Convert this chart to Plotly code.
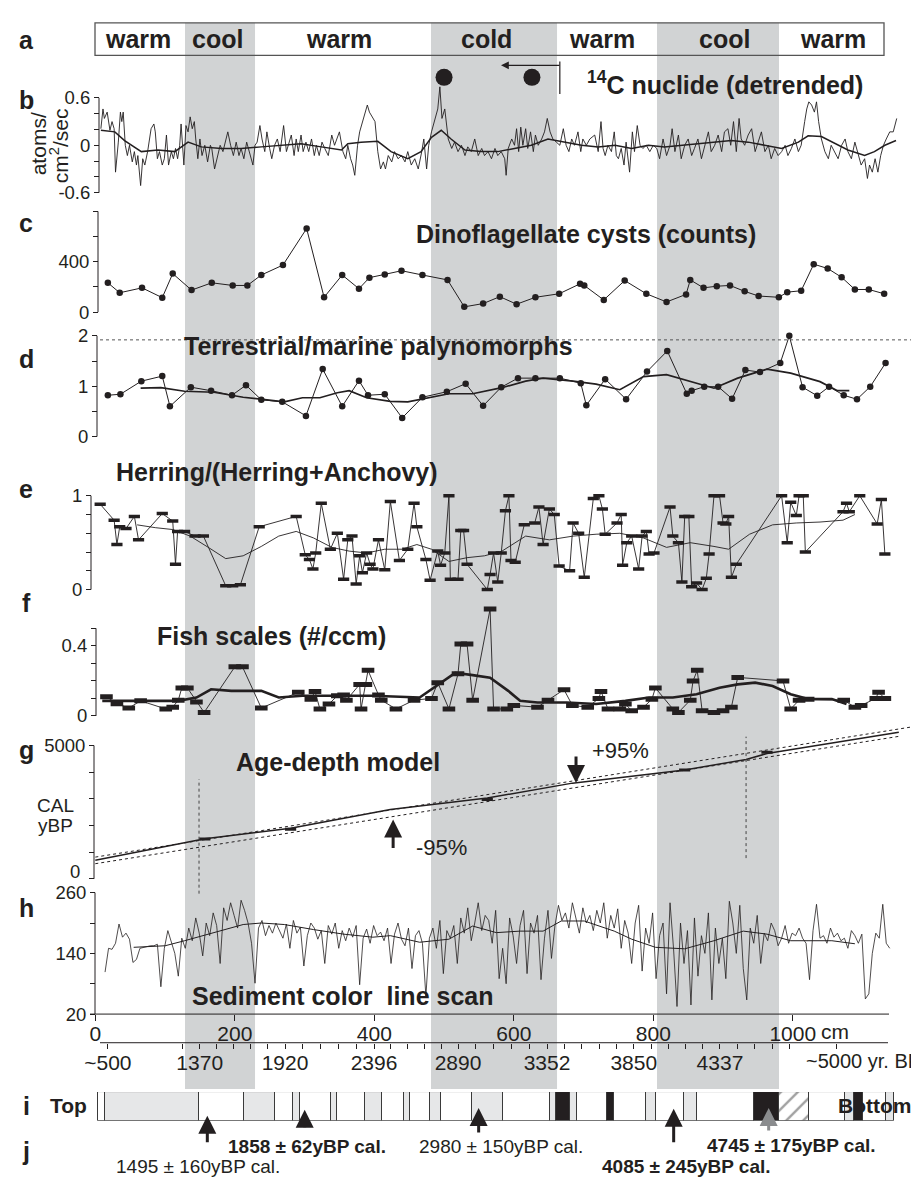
import plotly.graph_objects as go

W, H = 919, 1178
FONT = "Liberation Sans, Arial, Helvetica, sans-serif"
INK = "#231f20"
BAND = "#d1d3d4"
LITH_GRAY = "#e6e7e8"

# ---------------- data ----------------
regime_labels = ["warm", "cool", "warm", "cold", "warm", "cool", "warm"]
band_start_cm = [128.6, 481.3, 805.3]
band_end_cm = [229.0, 662.0, 980.2]

# b: 14C nuclide (detrended), depth cm / atoms cm-2 s-1
c14_raw = [(8,0.21),(11,0.46),(13,0.34),(17,0.42),(21,0.19),(24,0.30),(27,0.21),(29,-0.34),(33,0.04),(36,0.42),
 (38,0.30),(40,0.42),(43,0),(46,-0.13),(49,0),(53,-0.21),(56,-0.08),(59,-0.25),(61,-0.13),(65,-0.51),(68,-0.17),
 (71,-0.25),(75,-0.08),(78,0.08),(80,0.21),(84,0.27),(86,0.17),(89,-0.17),(92,-0.08),(96,-0.25),(99,-0.17),(102,0.13),
 (105,-0.25),(109,-0.08),(112,-0.17),(115,-0.04),(118,-0.17),(121,0),(123,0.27),(127,-0.25),(130,0.25),(133,0.17),
 (136,0.36),(139,0.21),(142,0.30),(144,0.08),(147,-0.17),(150,0.08),(153,-0.13),(157,0),(161,-0.21),(165,0),(167,-0.04),
 (171,-0.30),(175,-0.13),(179,0),(183,-0.08),(187,0.08),(190,0.17),(194,0),(198,-0.13),(202,0.04),(206,-0.13),(209,-0.04),
 (213,-0.17),(217,0.04),(221,-0.08),(226,-0.25),(229,0),(232,0.04),(236,0.25),(239,0.08),(243,-0.08),(246,0.17),(250,-0.04),
 (253,-0.17),(257,0),(261,0.08),(265,-0.08),(270,0.25),(274,-0.08),(277,0),(281,0.13),(285,-0.13),(288,0.08),(291,-0.08),
 (295,0.13),(298,-0.08),(302,0.04),(306,-0.08),(310,0.08),(314,-0.13),(317,0),(321,-0.13),(325,0.04),(329,-0.04),(334,-0.13),
 (339,0.13),(343,0),(350,0.17),(355,-0.08),(359,-0.17),(362,0),(366,-0.17),(369,-0.25),(372,-0.38),(376,0),(379,0.17),
 (384,0.34),(390,0.51),(393,0.42),(398,0.34),(401,0.30),(405,-0.08),(409,-0.30),(413,-0.21),(416,-0.30),(420,-0.13),
 (425,-0.21),(429,-0.08),(434,-0.17),(439,-0.13),(444,-0.21),(448,-0.08),(453,-0.25),(458,-0.17),(463,-0.30),(468,-0.08),
 (471,0.08),(475,-0.30),(478,0),(482,0.17),(487,0.34),(491,0.46),(494,0.74),(497,0.34),(501,0.46),(506,0.08),(511,-0.04),
 (515,0.04),(520,-0.08),(525,0),(530,-0.13),(534,-0.02),(539,-0.08),(544,0.08),(549,-0.13),(554,-0.04),(558,-0.13),
 (563,-0.08),(568,-0.17),(573,-0.04),(577,-0.13),(582,-0.08),(587,-0.17),(589,-0.38),(592,-0.04),(597,0.08),(601,0),
 (604,0.21),(607,-0.08),(610,0.23),(613,0),(617,0.21),(620,-0.04),(624,0.17),(628,-0.08),(631,0.13),(635,0),(640,0.08),
 (644,0.17),(648,0.34),(652,0.17),(656,0.08),(661,0.04),(666,0),(671,0.21),(675,0),(679,-0.08),(683,0.08),(687,0),
 (692,0.17),(696,-0.08),(699,0.08),(704,0),(709,0.08),(716,0.13),(721,-0.08),(725,0.30),(728,-0.04),(731,-0.13),(735,0),
 (740,-0.08),(744,0.17),(747,-0.13),(750,-0.17),(754,-0.04),(758,-0.25),(761,0.04),(766,-0.34),(770,0.17),(773,-0.08),
 (777,0.25),(781,0),(785,-0.04),(790,0),(795,-0.08),(800,0),(805,-0.04),(809,-0.17),(814,0.08),(819,-0.13),(824,0),
 (827,0.21),(831,-0.08),(836,0.13),(840,-0.17),(845,0),(850,0.08),(855,-0.13),(859,-0.04),(864,0.08),(869,-0.17),(874,0),
 (879,0.17),(883,-0.08),(888,0),(893,0.13),(898,-0.08),(902,0.17),(907,0.21),(911,0),(915,0.30),(919,-0.08),(923,0.34),
 (926,0.08),(931,0),(936,0.13),(941,0.21),(946,-0.08),(950,0.04),(955,0.17),(960,-0.08),(965,0),(969,-0.17),(974,-0.04),
 (979,-0.13),(984,-0.08),(989,0),(993,-0.13),(998,-0.04),(1003,0.08),(1008,-0.08),(1012,0),(1017,0.30),(1020,0.46),
 (1023,0.55),(1027,0.51),(1031,0.42),(1034,0.55),(1037,0.30),(1041,0.08),(1046,-0.08),(1051,-0.17),(1055,0),(1060,-0.08),
 (1065,-0.17),(1070,0),(1075,0.08),(1079,-0.08),(1084,-0.17),(1089,0.04),(1094,-0.13),(1098,-0.25),(1103,-0.17),
 (1107,-0.42),(1110,-0.25),(1114,-0.34),(1118,-0.17),(1122,-0.34),(1126,-0.13),(1130,0),(1134,0.08),(1139,0.17),
 (1144,0.17),(1149,0.34)]
c14_smooth = [(8,0.19),(28,0.17),(42,0.06),(66,-0.08),(90,-0.06),(114,-0.08),(133,0.04),(152,-0.02),(181,-0.04),
 (209,-0.04),(238,-0.02),(267,0),(295,0.02),(324,-0.02),(353,-0.06),(362,0.02),(381,0.04),(405,0.05),(424,-0.08),
 (448,-0.17),(467,-0.08),(482,0.10),(496,0.19),(510,0.08),(530,-0.06),(553,-0.08),(577,-0.08),(601,-0.04),(625,0),
 (649,0.08),(673,0.04),(697,0),(721,-0.02),(745,0),(769,-0.04),(793,0),(816,-0.02),(840,0),(864,0.02),(888,0.04),
 (912,0.06),(936,0.04),(960,0),(984,-0.04),(1008,0.04),(1022,0.12),(1041,0.11),(1060,0.02),(1079,-0.06),(1103,-0.13),
 (1117,-0.08),(1132,0),(1148,0.06)]
c14_events_cm = [500, 626]

# c: dinoflagellate cysts (counts)
dino = [(18,233),(35,154),(67,193),(96,115),(111,306),(138,175),(167,233),(197,212),(218,212),(238,295),(269,374),
 (303,664),(328,118),(354,295),(378,186),(393,274),(415,300),(439,329),(469,295),(505,256),(529,42),(556,68),(580,123),
 (604,63),(631,118),(665,146),(695,225),(701,212),(729,97),(759,251),(790,146),(819,81),(847,141),(853,256),(872,193),
 (891,206),(910,212),(931,165),(951,128),(980,118),(992,159),(1012,170),(1030,381),(1050,347),(1070,277),(1089,180),
 (1109,180),(1131,146)]

# d: terrestrial / marine palynomorphs
paly = [(18,0.82),(36,0.84),(66,1.10),(96,1.20),(107,0.60),(137,0.98),(166,0.91),(196,0.82),(216,1.02),(238,0.73),
 (268,0.69),(302,0.41),(326,1.34),(354,0.60),(378,1.11),(391,0.82),(415,0.84),(440,0.37),(469,0.78),(504,0.89),
 (531,1.05),(556,0.61),(582,0.98),(606,1.16),(631,1.16),(666,1.16),(696,1.06),(704,0.62),(731,1.14),(761,0.74),
 (791,1.29),(820,1.70),(848,0.85),(855,0.91),(873,0.99),(893,0.99),(913,0.75),(932,1.32),(953,1.28),(982,1.46),
 (995,2.0),(1014,0.98),(1035,0.81),(1052,0.99),(1073,0.82),(1092,0.74),(1111,0.99),(1133,1.46)]
paly_smooth = [(65,0.96),(94,0.97),(128,0.90),(170,0.88),(212,0.78),(246,0.72),(271,0.69),(297,0.77),(322,0.77),
 (347,0.87),(364,0.91),(389,0.77),(423,0.70),(448,0.69),(474,0.76),(507,0.85),(541,0.85),(583,0.97),(617,1.10),
 (642,1.16),(685,1.10),(718,1.04),(752,0.93),(786,1.19),(819,1.23),(853,1.10),(887,0.96),(921,1.16),(963,1.34),
 (997,1.26),(1039,1.09),(1064,0.91),(1081,0.91)]
paly_ref_level = 1.92

# e: herring / (herring + anchovy)
herring = [(7,0.91),(27,0.74),(31,0.48),(35,0.67),(44,0.65),(56,0.78),(62,0.53),(96,0.81),(111,0.73),(115,0.27),
 (118,0.62),(128,0.62),(143,0.57),(155,0.57),(187,0.04),(197,0.04),(208,0.05),(235,0.67),(288,0.78),(301,0.37),
 (307,0.32),(312,0.22),(316,0.39),(324,0.92),(337,0.43),(347,0.60),(356,0.11),(362,0.53),(368,0.57),(374,0.06),
 (379,0.36),(383,0.18),(389,0.39),(394,0.27),(398,0.22),(406,0.53),(415,0.21),(423,0.94),(436,0.31),(448,0.43),
 (457,0.92),(461,0.67),(474,0.32),(480,0.10),(491,0.41),(495,0.26),(501,0.39),(507,1.0),(509,0.11),(520,0.11),
 (524,0.63),(528,0.63),(533,0.27),(562,0.0),(566,0.16),(571,0.39),(577,0.08),(582,0.39),(588,0.84),(593,1.0),
 (596,0.31),(602,0.29),(615,0.69),(630,0.71),(636,0.88),(642,0.48),(651,0.86),(658,0.80),(665,0.25),(680,0.20),
 (685,0.71),(693,0.60),(701,0.13),(714,0.97),(722,1.0),(727,0.86),(731,0.59),(748,0.71),(754,0.80),(756,0.26),
 (762,0.50),(769,0.57),(779,0.22),(784,0.57),(790,0.62),(794,0.38),(801,0.39),(824,0.88),(828,0.57),(836,0.50),
 (841,0.08),(845,0.78),(851,0.78),(855,0.03),(862,0.07),(870,0.0),(876,0.12),(880,0.38),(887,1.0),(895,1.0),
 (900,0.71),(904,0.70),(908,0.78),(912,0.13),(919,0.27),(984,1.0),(992,0.50),(997,0.93),(1005,0.79),(1009,1.0),
 (1015,1.0),(1018,0.40),(1072,0.83),(1077,0.92),(1081,0.83),(1096,1.0),(1121,0.70),(1127,0.96),(1132,0.38)]
herring_smooth = [(60,0.69),(86,0.66),(111,0.64),(136,0.57),(162,0.45),(187,0.33),(212,0.36),(238,0.46),(263,0.57),
 (288,0.62),(313,0.55),(339,0.45),(364,0.41),(389,0.39),(415,0.43),(440,0.43),(461,0.48),(482,0.43),(507,0.30),
 (533,0.34),(558,0.36),(583,0.41),(617,0.57),(651,0.53),(685,0.57),(718,0.59),(752,0.60),(786,0.55),(819,0.45),
 (853,0.50),(887,0.46),(908,0.43),(938,0.59),(971,0.69),(1005,0.71),(1039,0.72),(1072,0.74),(1089,0.80)]

# f: fish scales (#/ccm)
fish = [(16,0.11),(31,0.07),(48,0.045),(65,0.086),(101,0.04),(111,0.05),(119,0.09),(124,0.16),(132,0.16),(145,0.08),
 (156,0.02),(200,0.28),(211,0.28),(238,0.045),(291,0.135),(309,0.095),(315,0.14),(322,0.04),(335,0.068),(347,0.115),
 (356,0.12),(360,0.09),(379,0.18),(381,0.04),(388,0.18),(391,0.26),(406,0.12),(410,0.09),(431,0.04),(457,0.09),
 (482,0.10),(491,0.19),(507,0.04),(520,0.24),(524,0.41),(533,0.41),(541,0.09),(566,0.61),(571,0.04),(590,0.04),
 (600,0.06),(634,0.05),(649,0.09),(672,0.15),(684,0.06),(706,0.05),(722,0.10),(725,0.14),(735,0.04),(752,0.04),
 (760,0.068),(769,0.03),(786,0.05),(798,0.095),(803,0.16),(828,0.04),(836,0.02),(853,0.09),(857,0.20),(863,0.26),
 (870,0.03),(887,0.02),(900,0.03),(912,0.05),(921,0.22),(986,0.20),(997,0.04),(1009,0.09),(1022,0.095),(1073,0.09),
 (1089,0.05),(1098,0.06),(1119,0.10),(1123,0.135),(1132,0.10)]
fish_smooth = [(10,0.086),(119,0.086),(145,0.105),(166,0.152),(195,0.143),(238,0.143),(263,0.105),(297,0.115),
 (347,0.115),(398,0.115),(465,0.105),(482,0.152),(516,0.246),(541,0.233),(566,0.218),(592,0.143),(609,0.086),
 (634,0.077),(676,0.077),(718,0.068),(760,0.086),(794,0.105),(828,0.105),(862,0.124),(895,0.161),(921,0.180),
 (946,0.19),(971,0.171),(997,0.124),(1022,0.096),(1056,0.096),(1077,0.068)]

# g: age-depth model (cal yBP)
age_depth = [(0,700),(157,1500),(280,1900),(423,2600),(562,3030),(684,3590),(845,4080),(933,4480),(963,4700),(1152,5500)]
age_upper = [(0,815),(1169,5692)]
age_lower = [(0,567),(1152,5345)]
dated_depth = [157, 280, 562, 845, 963]
dated_age = [1495, 1858, 2980, 4085, 4745]
dated_err = [160, 62, 150, 245, 175]
dated_arrow_cm = [160.6, 300.2, 549.6, 829.2, 965.4]

# h: sediment colour line scan (grey value), 5 cm spacing from 14 cm
color_start_cm, color_step_cm = 14, 5
color_val = [103,150,148,160,198,172,180,168,122,128,
 150,152,154,155,155,158,74,150,185,160,
 140,95,170,150,190,165,210,180,135,200,
 175,220,195,120,230,205,240,215,190,245,
 225,200,160,81,190,205,175,195,180,200,
 185,170,198,150,205,180,192,115,175,200,
 190,168,185,120,195,178,200,150,185,165,
 190,172,195,78,170,188,160,195,175,182,
 165,190,120,178,200,168,155,190,110,175,
 185,160,55,170,190,150,205,100,185,170,
 195,120,210,180,230,165,200,240,185,215,
 205,160,225,90,150,80,210,175,120,195,
 225,100,200,180,215,88,170,225,130,195,
 235,205,220,190,240,210,180,230,200,215,
 185,225,200,240,170,215,190,228,150,205,
 180,120,200,235,105,190,160,220,90,175,
 200,60,240,150,35,200,120,185,38,210,
 95,175,140,220,48,190,120,170,90,243,
 200,140,235,110,48,190,160,215,120,180,
 165,200,185,155,170,195,160,180,175,190,
 170,160,88,185,237,170,175,160,190,172,
 180,165,170,150,185,175,160,178,50,60,
 140,180,170,237,160,150]
color_smooth = [(55,152),(100,155),(128,165),(170,181),(212,197),(238,200),(271,197),(313,187),(356,178),(398,172),
 (423,175),(465,162),(507,168),(541,194),(575,181),(609,184),(642,184),(668,204),(701,204),(744,184),(769,168),
 (803,152),(845,149),(887,165),(929,184),(963,178),(997,165),(1056,165),(1089,159)]

# i: lithology column (segment edges in cm and type: w=white, g=grey, b=black, h=hatched)
lith_edges = [3.9,13.5,148.2,212.8,258,283.5,293.5,337.5,347,386.7,411,442.6,451.6,480.3,495.2,540,584,652.3,661,
 681,690.6,733.6,743.2,789.5,803.9,844.4,862.6,944,979.8,1022.8,1074.4,1087.3,1100.7,1133.6,1145.5]
lith_kind = ["w","g","w","g","w","g","w","g","w","g","w","g","w","g","w","g","w","g","b","g","w","b","w","g",
 "w","g","w","b","h","w","g","b","w","g"]

depth_ticks = [0, 200, 400, 600, 800, 1000]
year_tick_cm = [18, 149.7, 272, 399.6, 520, 647.6, 772, 895.6]
year_tick_text = ["~500", "1370", "1920", "2396", "2890", "3352", "3850", "4337"]
year_end_tick_cm = 1062

# ---------------- layout helpers ----------------
X0, XS = 87.3, 0.6975          # px of 0 cm, px per cm
XL, XR = 60, 910
xrange = [(XL - X0) / XS, (XR - X0) / XS]

def PX(x): return x / W
def PY(y): return 1 - y / H

def yax(v0, p0, v1, p1, top, bot, pos, tickvals, ticktext):
    f = lambda p: v0 + (p - p0) * (v1 - v0) / (p1 - p0)
    return dict(domain=[PY(bot), PY(top)], range=[f(bot), f(top)], anchor="free", position=PX(pos),
                tickmode="array", tickvals=tickvals, ticktext=ticktext, ticks="outside", ticklen=5,
                tickwidth=1, tickcolor=INK, showgrid=False, zeroline=False, showline=False,
                tickfont=dict(family=FONT, size=18.5, color=INK))

def unz(pairs):
    return [p[0] for p in pairs], [p[1] for p in pairs]

fig = go.Figure()

def line(pairs, yaxis, width=1.0, mode="lines", marker=None, dash=None, color=INK):
    x, y = unz(pairs)
    fig.add_trace(go.Scatter(x=x, y=y, xaxis="x", yaxis=yaxis, mode=mode, showlegend=False, hoverinfo="skip",
                             line=dict(color=color, width=width, dash=dash), marker=marker))

# b
line(c14_raw, "y", 0.9)
line(c14_smooth, "y", 1.5)
fig.add_trace(go.Scatter(x=c14_events_cm, y=[0.86] * len(c14_events_cm), xaxis="x", yaxis="y", mode="markers",
                         marker=dict(size=17, color=INK), showlegend=False, hoverinfo="skip"))
# c
line(dino, "y2", 1.0, "lines+markers", dict(size=6.5, color=INK))
# d
line(paly, "y3", 1.0, "lines+markers", dict(size=6.5, color=INK))
line(paly_smooth, "y3", 1.7)
# e
line(herring, "y4", 0.9, "lines+markers", dict(symbol="line-ew", size=8, line=dict(width=3.5, color=INK)))
line(herring_smooth, "y4", 0.9)
# f
line(fish, "y5", 0.9, "lines+markers", dict(symbol="line-ew", size=9, line=dict(width=5, color=INK)))
line(fish_smooth, "y5", 2.6)
# g
line(age_upper, "y6", 1.0, dash="dot")
line(age_lower, "y6", 1.0, dash="dot")
line(age_depth, "y6", 1.5)
fig.add_trace(go.Scatter(x=dated_depth, y=dated_age, xaxis="x", yaxis="y6", mode="markers", showlegend=False,
                         hoverinfo="skip", marker=dict(symbol="line-ew", size=8, line=dict(width=3, color=INK))))
# h
hx = [color_start_cm + color_step_cm * i for i in range(len(color_val))]
fig.add_trace(go.Scatter(x=hx, y=color_val, xaxis="x", yaxis="y7", mode="lines", showlegend=False,
                         hoverinfo="skip", line=dict(color=INK, width=0.8)))
line(color_smooth, "y7", 1.0)

# i lithology bars
fill = {"w": "white", "g": LITH_GRAY, "b": INK, "h": "white"}
centers = [(a + b) / 2 for a, b in zip(lith_edges[:-1], lith_edges[1:])]
widths = [b - a for a, b in zip(lith_edges[:-1], lith_edges[1:])]
fig.add_trace(go.Bar(x=centers, y=[1] * len(centers), width=widths, base=0, xaxis="x", yaxis="y8",
                     showlegend=False, hoverinfo="skip",
                     marker=dict(color=[fill[k] for k in lith_kind], line=dict(color="#3a3a3a", width=1),
                                 pattern=dict(shape=["/" if k == "h" else "" for k in lith_kind],
                                              fgcolor=INK, bgcolor="white", size=12, solidity=0.2))))
# dummy for the year axis
fig.add_trace(go.Scatter(x=[0], y=[None], xaxis="x2", yaxis="y7", mode="lines", showlegend=False, hoverinfo="skip"))

# year ticks (labelled + 4 subdivisions between labelled ones)
yt_vals, yt_text = [], []
yt_vals.append(year_tick_cm[0]); yt_text.append(year_tick_text[0])
yt_vals.append(125); yt_text.append("")
for k in range(1, len(year_tick_cm)):
    yt_vals.append(year_tick_cm[k]); yt_text.append(year_tick_text[k])
    if k < len(year_tick_cm) - 1:
        a, b = year_tick_cm[k], year_tick_cm[k + 1]
        for j in range(1, 5):
            yt_vals.append(a + (b - a) * j / 5); yt_text.append("")
step = (year_tick_cm[-1] - year_tick_cm[1]) / (5 * (len(year_tick_cm) - 2))
for j in range(1, 5):
    yt_vals.append(year_tick_cm[-1] + step * j); yt_text.append("")
yt_vals.append(year_end_tick_cm); yt_text.append("")

fig.update_layout(
    width=W, height=H, margin=dict(l=0, r=0, t=0, b=0),
    paper_bgcolor="white", plot_bgcolor="rgba(0,0,0,0)", showlegend=False,
    bargap=0,
    xaxis=dict(domain=[PX(XL), PX(XR)], range=xrange, anchor="y7", tickmode="array", tickvals=depth_ticks,
               ticktext=[str(v) for v in depth_ticks], ticks="outside", ticklen=6, tickcolor=INK,
               ticklabelstandoff=-5,
               showgrid=False, zeroline=False, showline=False, tickfont=dict(family=FONT, size=21, color=INK)),
    xaxis2=dict(domain=[PX(XL), PX(XR)], range=xrange, overlaying="x", anchor="free", position=PY(1043),
                side="bottom", tickmode="array", tickvals=yt_vals, ticktext=yt_text, ticks="outside", ticklen=5,
                ticklabelstandoff=-4,
                tickcolor=INK, showgrid=False, zeroline=False, showline=False,
                tickfont=dict(family=FONT, size=21, color=INK)),
    yaxis=yax(-0.6, 182, 0.6, 86, 50, 192, 91, [-0.6, -0.4, -0.2, 0, 0.2, 0.4, 0.6],
              ["-0.6", "", "", "0", "", "", "0.6"]),
    yaxis2=yax(0, 303, 800, 201, 198, 306, 90, [0, 200, 400, 600, 800], ["0", "", "400", "", ""]),
    yaxis3=yax(0, 429, 2, 327, 320, 433, 89, [0, 0.5, 1, 1.5, 2], ["0", "", "1", "", "2"]),
    yaxis4=yax(0, 584, 1, 489, 482, 590, 83, [0, 0.2, 0.4, 0.6, 0.8, 1], ["0", "", "", "", "", "1"]),
    yaxis5=yax(0, 712, 0.4, 641, 595, 718, 88, [0, 0.1, 0.2, 0.3, 0.4, 0.5], ["0", "", "", "", "0.4", ""]),
    yaxis6=yax(0, 877, 5000, 742, 715, 880, 86, [0, 1000, 2000, 3000, 4000, 5000], ["", "", "", "", "", "5000"]),
    yaxis7=yax(20, 1014, 260, 891, 885, 1014, 87, [20, 80, 140, 200, 260], ["20", "", "140", "", "260"]),
    yaxis8=dict(domain=[PY(1122), PY(1093)], range=[0, 1], anchor="free", position=0, visible=False),
)

shapes = []
# grey climate bands
for a, b in zip(band_start_cm, band_end_cm):
    shapes.append(dict(type="rect", xref="x", yref="paper", x0=a, x1=b, y0=PY(1090), y1=PY(10),
                       fillcolor=BAND, line=dict(width=0), layer="below"))
# box a
shapes.append(dict(type="rect", xref="paper", yref="paper", x0=PX(87), x1=PX(876), y0=PY(43), y1=PY(10),
                   line=dict(color="#555", width=1.3)))
# y-axis lines
for ax, pos, lo, hi in [("y", 91, -0.6, 0.6), ("y2", 90, 0, 800), ("y3", 89, 0, 2), ("y4", 83, 0, 1),
                        ("y5", 88, 0, 0.5), ("y6", 86, 0, 5000), ("y7", 87, 20, 260)]:
    shapes.append(dict(type="line", xref="paper", yref=ax, x0=PX(pos), x1=PX(pos), y0=lo, y1=hi,
                       line=dict(color=INK, width=1)))
# x axis lines
shapes.append(dict(type="line", xref="paper", yref="paper", x0=PX(82), x1=PX(881), y0=PY(1014), y1=PY(1014),
                   line=dict(color=INK, width=1)))
shapes.append(dict(type="line", xref="paper", yref="paper", x0=PX(92), x1=PX(880), y0=PY(1043), y1=PY(1043),
                   line=dict(color=INK, width=1)))
# dotted reference level in d
shapes.append(dict(type="line", xref="paper", yref="y3", x0=PX(92), x1=PX(918), y0=paly_ref_level,
                   y1=paly_ref_level, line=dict(color="#555", width=1, dash="dot")))
# vertical dotted lines in g
shapes.append(dict(type="line", xref="x", yref="paper", x0=148.7, x1=148.7, y0=PY(892), y1=PY(776),
                   line=dict(color="#444", width=1, dash="dot")))
shapes.append(dict(type="line", xref="x", yref="paper", x0=933, x1=933, y0=PY(856), y1=PY(733),
                   line=dict(color="#444", width=1, dash="dot")))
# marker bar above b
shapes.append(dict(type="line", xref="x", yref="paper", x0=666, x1=666, y0=PY(82), y1=PY(49),
                   line=dict(color=INK, width=1.2)))
fig.update_layout(shapes=shapes)

ann = []
def T(text, x, y, size, bold=False, xanchor="center", angle=0, color=INK):
    ann.append(dict(text=f"<b>{text}</b>" if bold else text, x=PX(x), y=PY(y), xref="paper", yref="paper",
                    showarrow=False, xanchor=xanchor, yanchor="middle", textangle=angle,
                    font=dict(family=FONT, size=size, color=color)))

def ARROW(xcm, y_head, ay, width=3, color=INK, ax=0, size=1.2):
    ann.append(dict(text="", x=xcm, y=PY(y_head), xref="x", yref="paper", showarrow=True, ax=ax, ay=ay,
                    arrowhead=2, arrowsize=size, arrowwidth=width, arrowcolor=color))

for lab, cx in zip(regime_labels, [130, 209, 331, 479, 594, 716, 825]):
    T(lab, cx, 26, 25, bold=True)
for lab, yy in zip("abcdefghij", [27, 88, 213, 350, 482, 598, 747, 907, 1107, 1153]):
    T(lab, 18, yy, 25, bold=True)

T("<sup>14</sup>C nuclide (detrended)", 577, 71, 25, bold=True, xanchor="left")
T("Dinoflagellate cysts (counts)", 406, 224, 25, bold=True, xanchor="left")
T("Terrestrial/marine palynomorphs", 174, 337, 25, bold=True, xanchor="left")
T("Herring/(Herring+Anchovy)", 106, 465, 25, bold=True, xanchor="left")
T("Fish scales (#/ccm)", 147, 631, 25, bold=True, xanchor="left")
T("Age-depth model", 226, 759, 25, bold=True, xanchor="left")
T("Sediment color \u00a0line scan", 182, 996, 25, bold=True, xanchor="left")

T("atoms/", 30, 133, 21, angle=-90)
T("cm<sup>2</sup>/sec", 51, 135, 21, angle=-90)
T("CAL", 47, 803, 19)
T("yBP", 47, 823, 19)
T("0", 74, 870, 18.5, xanchor="right")
T("+95%", 582, 747, 22, xanchor="left")
T("-95%", 406, 845, 22, xanchor="left")
T("cm", 811, 1032, 21, xanchor="left")
T("~5000 yr. BP", 915, 1062, 20, xanchor="right")
T("Top", 61, 1107, 21, bold=True)
T("Bottom", 866, 1107, 21, bold=True)

T("1495 \u00b1 160yBP cal.", 190, 1168, 19)
T("1858 \u00b1 62yBP cal.", 299, 1148, 19, bold=True)
T("2980 \u00b1 150yBP cal.", 493, 1148, 19)
T("4745 \u00b1 175yBP cal.", 783, 1147, 19, bold=True)
T("4085 \u00b1 245yBP cal.", 678, 1168, 19, bold=True)

# arrows
ARROW((493 - X0) / XS, 53, 0, width=1.2, ax=60, size=1.3)   # top of b
ARROW(689.2, 780, -28)
ARROW(427.0, 817, 30)
heads = [1117, 1111, 1109, 1110, 1109]
tails = [1145, 1130, 1135, 1145, 1133]
for k, (xc, hy, ty) in enumerate(zip(dated_arrow_cm, heads, tails)):
    ARROW(xc, hy, ty - hy, color="#8a8c8e" if k == 4 else INK)

fig.update_layout(annotations=ann)
fig.write_html("out.html")
